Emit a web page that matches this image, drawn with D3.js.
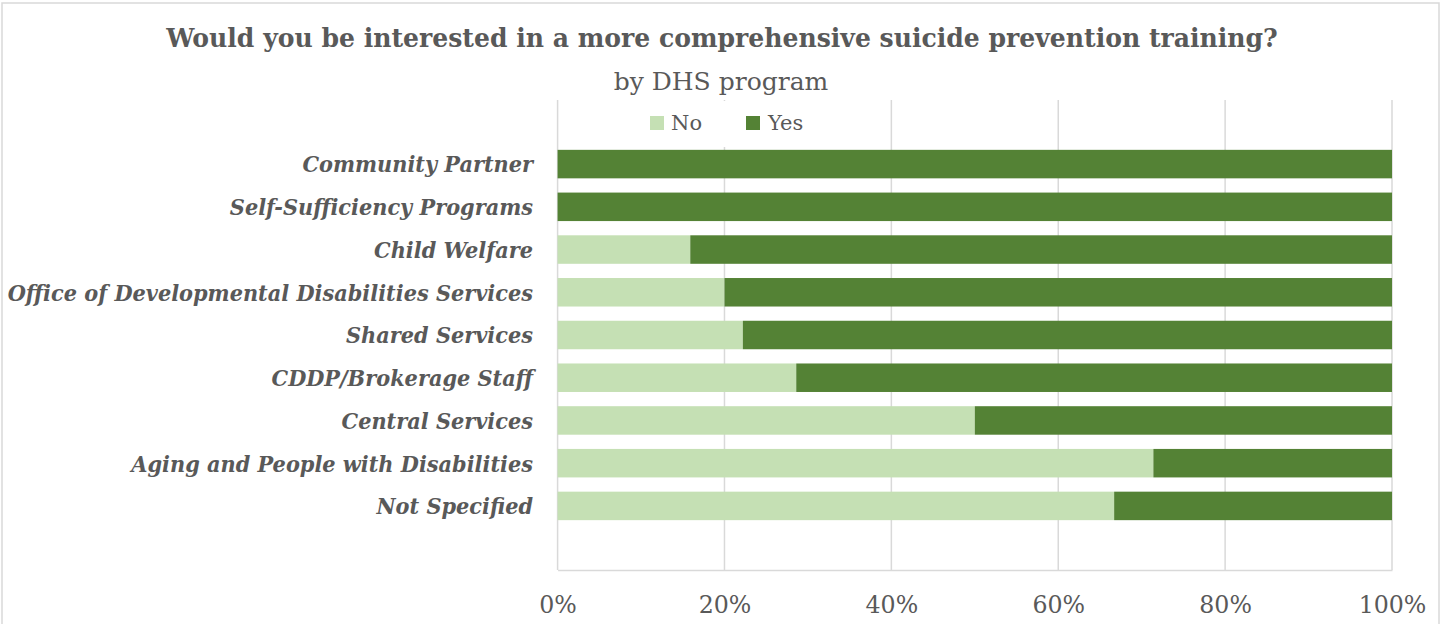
<!DOCTYPE html>
<html>
<head>
<meta charset="utf-8">
<script src="https://cdn.jsdelivr.net/npm/d3@7"></script>
<style>
  html, body { margin: 0; padding: 0; background: #fff; }
  svg { display: block; }
</style>
</head>
<body>
<svg id="chart" width="1442" height="624"></svg>
<script>
// Survey responses by DHS program (share of respondents)
const categories = [
  "Community Partner",
  "Self-Sufficiency Programs",
  "Child Welfare",
  "Office of Developmental Disabilities Services",
  "Shared Services",
  "CDDP/Brokerage Staff",
  "Central Services",
  "Aging and People with Disabilities",
  "Not Specified"
];
const noValues  = [0, 0, 0.159, 0.200, 0.222, 0.286, 0.500, 0.714, 0.667];
const yesValues = [1, 1, 0.841, 0.800, 0.778, 0.714, 0.500, 0.286, 0.333];
const seriesNames = ["No", "Yes"];
const tickValues = [0, 0.2, 0.4, 0.6, 0.8, 1.0];

const colors = { No: "#C5E0B4", Yes: "#548235" };
const textColor = "#595959";
const gridColor = "#D9D9D9";
const serif = "'DejaVu Serif', serif";
const labelFont = "'DejaVu Serif Condensed', 'DejaVu Serif', serif";

const svg = d3.select("#chart");

// outer chart frame
svg.append("rect")
  .attr("x", 2).attr("y", 3)
  .attr("width", 1437).attr("height", 660)
  .attr("fill", "#fff")
  .attr("stroke", gridColor).attr("stroke-width", 1.5);

const plot = { left: 557.6, right: 1392, top: 100, bottom: 570 };

const x = d3.scaleLinear().domain([0, 1]).range([plot.left, plot.right]);

// one empty slot above and below the categories
const step = (plot.bottom - plot.top) / (categories.length + 2);
const y = d3.scaleBand()
  .domain(categories)
  .range([plot.top + step, plot.bottom - step])
  .paddingInner(0.333)
  .paddingOuter(0.1665);

// vertical gridlines
svg.append("g")
  .selectAll("line")
  .data(tickValues)
  .join("line")
  .attr("x1", d => x(d)).attr("x2", d => x(d))
  .attr("y1", plot.top).attr("y2", plot.bottom)
  .attr("stroke", gridColor).attr("stroke-width", 1.5);

// bottom axis with percentage labels
const xAxis = d3.axisBottom(x)
  .tickValues(tickValues)
  .tickFormat(d3.format(".0%"))
  .tickSize(0)
  .tickPadding(0);

const axisG = svg.append("g")
  .attr("transform", `translate(0,${plot.bottom})`)
  .call(xAxis);
axisG.select(".domain").attr("stroke", gridColor).attr("stroke-width", 1.5);
axisG.selectAll("text")
  .attr("y", 43)
  .attr("dy", 0)
  .attr("fill", textColor)
  .style("font-family", serif)
  .style("font-size", "23.7px");

// stacked bars
const rows = categories.map((c, i) => ({ category: c, No: noValues[i], Yes: yesValues[i] }));
const stacked = d3.stack().keys(seriesNames)(rows);

svg.append("g")
  .selectAll("g")
  .data(stacked)
  .join("g")
  .attr("fill", s => colors[s.key])
  .selectAll("rect")
  .data(s => s)
  .join("rect")
  .attr("x", d => x(d[0]))
  .attr("width", d => x(d[1]) - x(d[0]))
  .attr("y", d => y(d.data.category))
  .attr("height", y.bandwidth());

// category labels
const yAxis = d3.axisLeft(y).tickSize(0).tickPadding(0);
const yG = svg.append("g")
  .attr("transform", `translate(533,0)`)
  .call(yAxis);
yG.select(".domain").remove();
yG.selectAll("text")
  .attr("x", 0)
  .attr("dy", "0.36em")
  .attr("fill", textColor)
  .style("font-family", labelFont)
  .style("font-size", "23.2px")
  .style("font-weight", "bold")
  .style("font-style", "italic");

// legend (white box sits over the gridlines)
const legend = svg.append("g");
legend.append("rect")
  .attr("x", 634).attr("y", 101)
  .attr("width", 190).attr("height", 46)
  .attr("fill", "#fff");
const legendItems = [
  { key: "No", sx: 650, tx: 671 },
  { key: "Yes", sx: 746, tx: 768 }
];
legendItems.forEach(item => {
  legend.append("rect")
    .attr("x", item.sx).attr("y", 116)
    .attr("width", 14).attr("height", 14)
    .attr("fill", colors[item.key]);
  legend.append("text")
    .attr("x", item.tx).attr("y", 130)
    .attr("fill", textColor)
    .style("font-family", serif)
    .style("font-size", "21px")
    .text(item.key);
});

// titles
svg.append("text")
  .attr("x", 722).attr("y", 47)
  .attr("text-anchor", "middle")
  .attr("fill", textColor)
  .style("font-family", serif)
  .style("font-size", "25.1px")
  .style("font-weight", "bold")
  .text("Would you be interested in a more comprehensive suicide prevention training?");

svg.append("text")
  .attr("x", 721).attr("y", 90)
  .attr("text-anchor", "middle")
  .attr("fill", textColor)
  .style("font-family", serif)
  .style("font-size", "25px")
  .text("by DHS program");
</script>
</body>
</html>
